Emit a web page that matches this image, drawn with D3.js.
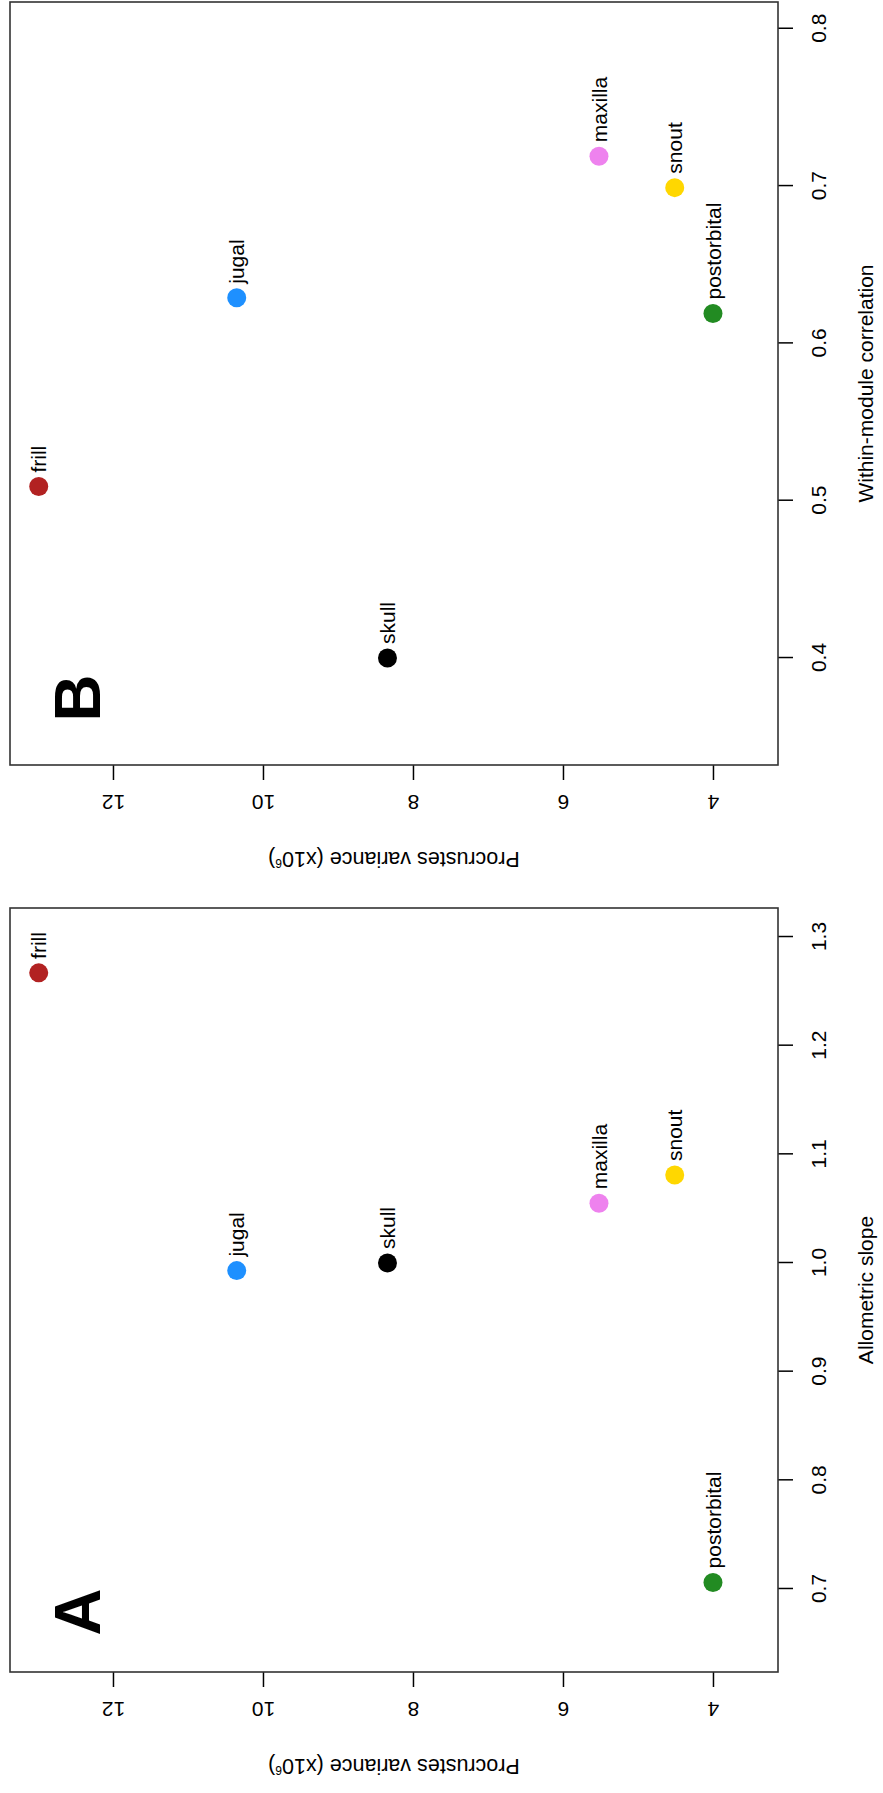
<!DOCTYPE html>
<html>
<head>
<meta charset="utf-8">
<script src="https://cdn.jsdelivr.net/npm/d3@7"></script>
<style>
  body { margin: 0; background: #fff; }
  text { font-family: "Liberation Sans", Arial, sans-serif; fill: #000; }
</style>
</head>
<body>
<div id="chart"></div>
<script>
let W = 883;
let H = 1793;

// the figure is drawn in its original landscape frame (H x W) and then turned a quarter turn
const modules = ["skull", "frill", "jugal", "maxilla", "snout", "postorbital"];
const moduleColors = ["black", "firebrick", "dodgerblue", "violet", "gold", "forestgreen"];
const variance = [8.34, 12.99, 10.35, 5.52, 4.51, 4.00];
const slope = [1.00, 1.267, 0.993, 1.055, 1.081, 0.706];
const correlation = [0.40, 0.509, 0.629, 0.719, 0.699, 0.619];

const varianceTicks = [4, 6, 8, 10, 12];
const slopeTicks = [0.7, 0.8, 0.9, 1.0, 1.1, 1.2, 1.3];
const correlationTicks = [0.4, 0.5, 0.6, 0.7, 0.8];

const varianceLim = [3.133, 13.373];
const slopeLim = [0.6236, 1.3267];
const correlationLim = [0.332, 0.817];

let rows = modules.map((m, i) => ({
  name: m, color: moduleColors[i], variance: variance[i], slope: slope[i], correlation: correlation[i]
}));

let svg = d3.select("#chart")
            .append("svg")
            .attr("width", W)
            .attr("height", H);

let fig = svg.append("g")
             .attr("transform", `translate(0,${H}) rotate(-90)`);

let plotTop = 10, plotBottom = 778;
let yScale = d3.scaleLinear(varianceLim, [plotBottom, plotTop]);

function panel(left, right, key, lim, ticks, xTitle, letter, letterOffset) {
  let g = fig.append("g");
  let xScale = d3.scaleLinear(lim, [left, right]);

  // x axis (along the bottom before turning)
  let xAxis = d3.axisBottom(xScale).tickValues(ticks).tickFormat(d3.format(".1f"))
                .tickSize(15).tickSizeOuter(0);
  let gx = g.append("g").attr("transform", `translate(0,${plotBottom})`).call(xAxis);
  gx.select(".domain").remove();
  gx.selectAll("line").attr("stroke", "#000").attr("stroke-width", 1.5);
  gx.selectAll("text")
    .attr("y", 40).attr("dy", "0.36em")
    .style("font-size", "21px")
    .style("font-family", "Liberation Sans, Arial, sans-serif");

  // y axis, labels parallel to the axis
  let yAxis = d3.axisLeft(yScale).tickValues(varianceTicks).tickSize(15).tickSizeOuter(0);
  let gy = g.append("g").attr("transform", `translate(${left},0)`).call(yAxis);
  gy.select(".domain").remove();
  gy.selectAll("line").attr("stroke", "#000").attr("stroke-width", 1.5);
  gy.selectAll("text")
    .attr("x", null).attr("dy", "0.36em")
    .attr("transform", "translate(-38,0) rotate(-90)")
    .attr("text-anchor", "middle")
    .style("font-size", "21px")
    .style("font-family", "Liberation Sans, Arial, sans-serif");

  // plot box
  g.append("rect")
   .attr("x", left).attr("y", plotTop)
   .attr("width", right - left).attr("height", plotBottom - plotTop)
   .attr("fill", "none").attr("stroke", "#333").attr("stroke-width", 1.6);

  // axis titles
  g.append("text")
   .attr("x", (left + right) / 2).attr("y", 865).attr("dy", "0.36em")
   .attr("text-anchor", "middle")
   .style("font-size", "21px")
   .text(xTitle);

  let yt = g.append("text")
   .attr("transform", `translate(${left - 95},${(plotTop + plotBottom) / 2}) rotate(-90)`)
   .attr("dy", "0.36em")
   .attr("text-anchor", "middle")
   .style("font-size", "21.5px");
  yt.append("tspan").text("Procrustes variance (x10");
  yt.append("tspan").attr("baseline-shift", "super").style("font-size", "12px").text("6");
  yt.append("tspan").text(")");

  // panel letter
  g.append("text")
   .attr("x", left + letterOffset).attr("y", 100)
   .attr("text-anchor", "middle")
   .style("font-size", "65px").style("font-weight", "bold")
   .text(letter);

  // points and their labels
  g.selectAll("circle")
   .data(rows)
   .enter()
   .append("circle")
   .attr("cx", d => xScale(d[key]))
   .attr("cy", d => yScale(d.variance))
   .attr("r", 9.5)
   .attr("fill", d => d.color);

  g.selectAll("text.lab")
   .data(rows)
   .enter()
   .append("text")
   .attr("class", "lab")
   .attr("x", d => xScale(d[key]) + 14)
   .attr("y", d => yScale(d.variance))
   .attr("dy", "0.36em")
   .style("font-size", "21px")
   .text(d => d.name);
}

panel(121, 885, "slope", slopeLim, slopeTicks, "Allometric slope", "A", 60);
panel(1028, 1791, "correlation", correlationLim, correlationTicks, "Within-module correlation", "B", 67);
</script>
</body>
</html>
